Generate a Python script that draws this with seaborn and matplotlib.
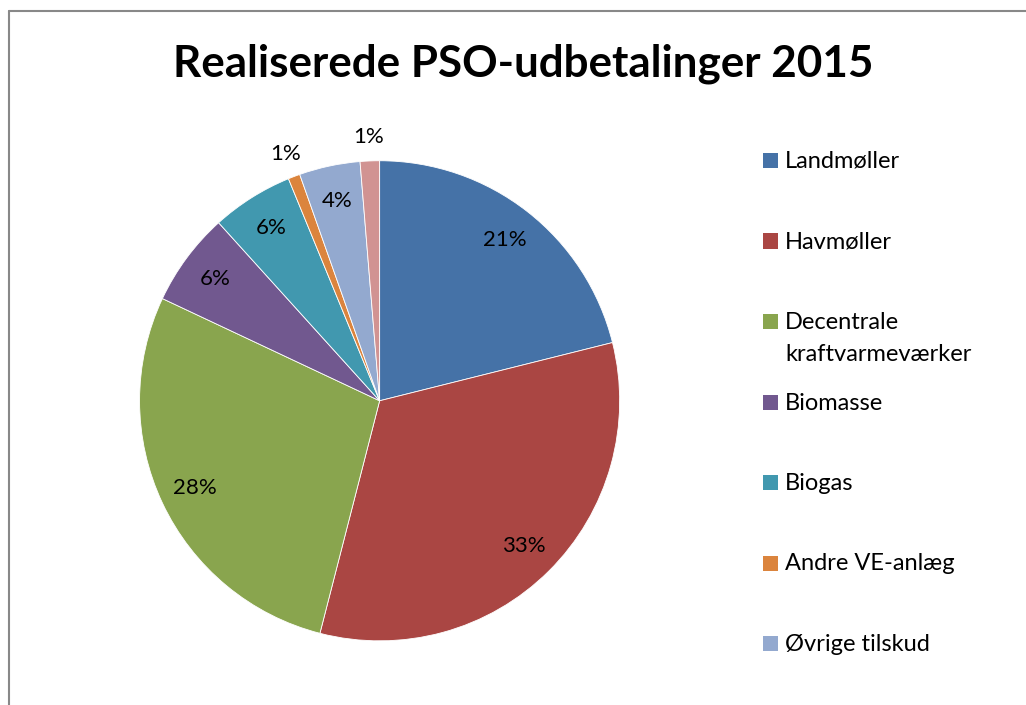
import matplotlib
matplotlib.use("Agg")
import matplotlib.pyplot as plt
from matplotlib.lines import Line2D
from matplotlib.patches import Rectangle
import seaborn as sns
import numpy as np

# ====== Data ======
categories = ["Landmøller", "Havmøller", "Decentrale\nkraftvarmeværker", "Biomasse",
              "Biogas", "Andre VE-anlæg", "Øvrige tilskud", "Andet"]
shares = [21.1, 32.9, 28.0, 6.3, 5.5, 0.8, 4.1, 1.3]
pct_labels = ["21%", "33%", "28%", "6%", "6%", "1%", "4%", "1%"]
legend_count = 7  # last entry is cut off in the original legend

colors = ["#4572A7", "#AA4643", "#89A54E", "#71588F",
          "#4198AF", "#DB843D", "#93A9CF", "#D19392"]

sns.set_theme(style="white")
plt.rcParams["font.family"] = ["Lato", "DejaVu Sans"]
palette = sns.color_palette(colors)

W, H = 1026, 705
fig = plt.figure(figsize=(W / 100, H / 100), dpi=100)
fig.patch.set_facecolor("white")

# pie axes: center ~ (380, 401) px, radius ~240 px
ax = fig.add_axes([0.136, 0.091, 0.468, 0.681])
wedges, _ = ax.pie(shares, colors=palette, startangle=90, counterclock=False,
                   wedgeprops=dict(edgecolor="white", linewidth=0.6))
ax.set_xlim(-1, 1)
ax.set_ylim(-1, 1)
ax.set_aspect("equal")
ax.axis("off")

# percentage labels: inside for normal slices, just outside for tiny ones
for w, lab, s in zip(wedges, pct_labels, shares):
    mid = np.deg2rad((w.theta1 + w.theta2) / 2)
    r = 1.1 if s < 2 else 0.85
    ax.text(r * np.cos(mid), r * np.sin(mid), lab, ha="center", va="center",
            fontsize=16, color="black")

fig.text(0.510, 1 - 77 / H, "Realiserede PSO-udbetalinger 2015", ha="center",
         va="baseline", fontsize=31.7, fontweight="bold", color="black")

# legend, Excel style: equally spaced entries, wrapped text hangs below
leg_top, leg_step, box, line_h = 160.5, 80.5, 15, 32
for i in range(legend_count):
    yc = leg_top + i * leg_step
    fig.add_artist(Rectangle((763 / W, 1 - (yc + box / 2) / H), box / W, box / H,
                             transform=fig.transFigure, facecolor=palette[i],
                             edgecolor="none"))
    for k, line in enumerate(categories[i].split("\n")):
        fig.text(785 / W, 1 - (yc + 7.5 + k * line_h) / H, line, ha="left",
                 va="baseline", fontsize=17, color="black")

# chart border (left and top edges visible)
fig.add_artist(Line2D([8.5 / W, 8.5 / W], [0, 1 - 11 / H], color="#888888", lw=1.5))
fig.add_artist(Line2D([8.5 / W, 1], [1 - 11 / H, 1 - 11 / H], color="#888888", lw=1.5))

fig.savefig("out.png", dpi=100)
